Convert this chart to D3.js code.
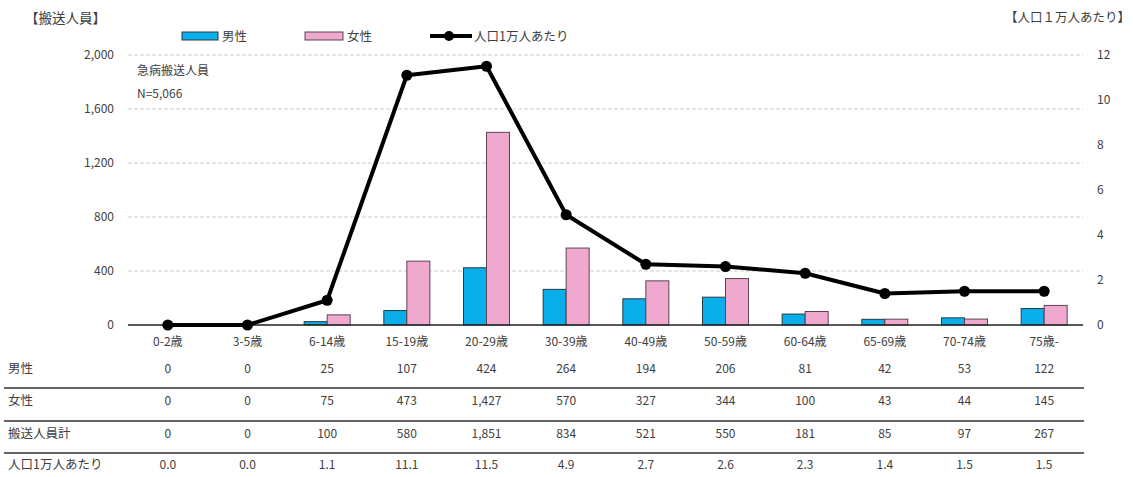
<!DOCTYPE html>
<html>
<head>
<meta charset="utf-8">
<script src="https://cdn.jsdelivr.net/npm/d3@7"></script>
<style>
  body { margin: 0; background: #fff; }
  text { font-family: "Noto Sans CJK JP", "Noto Sans", sans-serif; fill: #404040; }
</style>
</head>
<body>
<svg id="board" width="1133" height="477"></svg>
<script>
// data
let ageGroups = ['0-2歳', '3-5歳', '6-14歳', '15-19歳', '20-29歳', '30-39歳', '40-49歳', '50-59歳', '60-64歳', '65-69歳', '70-74歳', '75歳-']
let male = [0, 0, 25, 107, 424, 264, 194, 206, 81, 42, 53, 122]
let female = [0, 0, 75, 473, 1427, 570, 327, 344, 100, 43, 44, 145]
let total = [0, 0, 100, 580, 1851, 834, 521, 550, 181, 85, 97, 267]
let perTenK = [0.0, 0.0, 1.1, 11.1, 11.5, 4.9, 2.7, 2.6, 2.3, 1.4, 1.5, 1.5]
let leftTicks = [0, 400, 800, 1200, 1600, 2000]
let rightTicks = [0, 2, 4, 6, 8, 10, 12]
let rowNames = ['男性', '女性', '搬送人員計', '人口1万人あたり']

let board = d3.select('#board')

let x = d3.scaleBand().domain(ageGroups).range([128, 1084])
let yL = d3.scaleLinear().domain([0, 2000]).range([325, 55])
let yR = d3.scaleLinear().domain([0, 12]).range([325, 55])
let fmt = d3.format(',')

// grid lines
board.selectAll('.grid')
    .data(leftTicks.slice(1))
    .enter()
    .append('line')
    .attr('x1', 128).attr('x2', 1083)
    .attr('y1', d => yL(d)).attr('y2', d => yL(d))
    .attr('stroke', '#cfcfcf')
    .attr('stroke-dasharray', '4,2')

// left axis
let leftAxis = board.append('g')
    .attr('transform', 'translate(114,0)')
    .call(d3.axisLeft(yL).tickValues(leftTicks).tickFormat(fmt).tickSize(0).tickPadding(0))
leftAxis.select('.domain').remove()
leftAxis.selectAll('text').attr('font-size', 12).style('font-family', '"Noto Sans CJK JP", sans-serif').attr('fill', '#404040')

// right axis
let rightAxis = board.append('g')
    .attr('transform', 'translate(1097,0)')
    .call(d3.axisRight(yR).tickValues(rightTicks).tickSize(0).tickPadding(0))
rightAxis.select('.domain').remove()
rightAxis.selectAll('text').attr('font-size', 12).style('font-family', '"Noto Sans CJK JP", sans-serif').attr('fill', '#404040')

// bars
let bw = 23
board.selectAll('.male')
    .data(male)
    .enter()
    .append('rect')
    .attr('x', (d, i) => x(ageGroups[i]) + x.bandwidth() / 2 - bw)
    .attr('y', d => yL(d))
    .attr('width', bw)
    .attr('height', d => yL(0) - yL(d))
    .attr('fill', '#0aaeea')
    .attr('stroke', '#2a3a44')
    .attr('stroke-width', 1)

board.selectAll('.female')
    .data(female)
    .enter()
    .append('rect')
    .attr('x', (d, i) => x(ageGroups[i]) + x.bandwidth() / 2)
    .attr('y', d => yL(d))
    .attr('width', bw)
    .attr('height', d => yL(0) - yL(d))
    .attr('fill', '#efa9cf')
    .attr('stroke', '#5a4450')
    .attr('stroke-width', 1)

// baseline
board.append('line')
    .attr('x1', 128).attr('x2', 1083)
    .attr('y1', yL(0)).attr('y2', yL(0))
    .attr('stroke', '#222').attr('stroke-width', 1.5)

// line series
let line = d3.line()
    .x((d, i) => x(ageGroups[i]) + x.bandwidth() / 2)
    .y(d => yR(d))
board.append('path')
    .datum(perTenK)
    .attr('d', line)
    .attr('fill', 'none')
    .attr('stroke', '#000')
    .attr('stroke-width', 4)
    .attr('stroke-linejoin', 'round')
board.selectAll('.dot')
    .data(perTenK)
    .enter()
    .append('circle')
    .attr('cx', (d, i) => x(ageGroups[i]) + x.bandwidth() / 2)
    .attr('cy', d => yR(d))
    .attr('r', 5.5)
    .attr('fill', '#000')

// x labels
board.selectAll('.xlab')
    .data(ageGroups)
    .enter()
    .append('text')
    .attr('x', d => x(d) + x.bandwidth() / 2)
    .attr('y', 346)
    .attr('text-anchor', 'middle')
    .attr('font-size', 12)
    .text(d => d)

// titles and note
board.append('text').attr('x', 25).attr('y', 23).attr('font-size', 13.5).text('【搬送人員】')
board.append('text').attr('x', 1130).attr('y', 22).attr('text-anchor', 'end').attr('font-size', 12.5).text('【人口１万人あたり】')
board.append('text').attr('x', 137).attr('y', 75).attr('font-size', 12).text('急病搬送人員')
board.append('text').attr('x', 137).attr('y', 98).attr('font-size', 12).text('N=5,066')

// legend
board.append('rect').attr('x', 182).attr('y', 32).attr('width', 36).attr('height', 8)
    .attr('fill', '#0aaeea').attr('stroke', '#2a3a44')
board.append('text').attr('x', 222).attr('y', 41).attr('font-size', 12.5).text('男性')
board.append('rect').attr('x', 305).attr('y', 32).attr('width', 38).attr('height', 8)
    .attr('fill', '#efa9cf').attr('stroke', '#5a4450')
board.append('text').attr('x', 347).attr('y', 41).attr('font-size', 12.5).text('女性')
board.append('line').attr('x1', 430).attr('x2', 472).attr('y1', 36).attr('y2', 36)
    .attr('stroke', '#000').attr('stroke-width', 4)
board.append('circle').attr('cx', 449).attr('cy', 36).attr('r', 5).attr('fill', '#000')
board.append('text').attr('x', 474).attr('y', 41).attr('font-size', 12.5).text('人口1万人あたり')

// data table
let rows = [male, female, total, perTenK]
let rowY = [373, 405, 438, 469]
rows.forEach((vals, r) => {
    board.append('text')
        .attr('x', 8).attr('y', rowY[r])
        .attr('font-size', 12.5)
        .text(rowNames[r])
    board.selectAll('.cell' + r)
        .data(vals)
        .enter()
        .append('text')
        .attr('x', (d, i) => x(ageGroups[i]) + x.bandwidth() / 2)
        .attr('y', rowY[r])
        .attr('text-anchor', 'middle')
        .attr('font-size', 12)
        .text(d => r === 3 ? d3.format('.1f')(d) : fmt(d))
})
board.selectAll('.sep')
    .data([388, 421, 453])
    .enter()
    .append('line')
    .attr('x1', 4).attr('x2', 1084)
    .attr('y1', d => d).attr('y2', d => d)
    .attr('stroke', '#333').attr('stroke-width', 1.5)
</script>
</body>
</html>
